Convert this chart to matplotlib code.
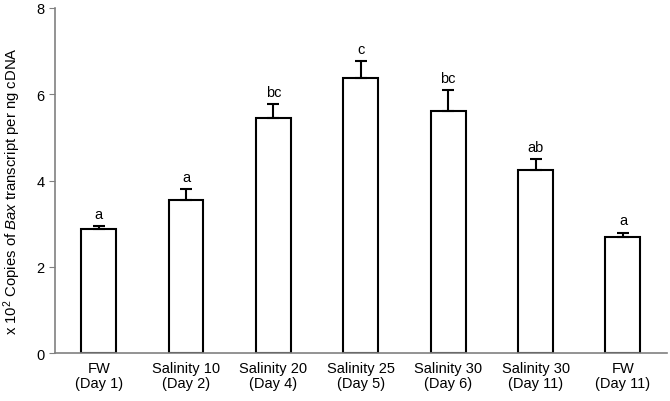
import numpy as np
import matplotlib
matplotlib.use('Agg')
import matplotlib.pyplot as plt

plt.rcParams['font.family'] = ['Liberation Sans', 'DejaVu Sans']
plt.rcParams['mathtext.fontset'] = 'custom'
plt.rcParams['mathtext.rm'] = 'Liberation Sans'
plt.rcParams['mathtext.it'] = 'Liberation Sans:italic'

# ---------- data ----------
categories = ['FW\n(Day 1)', 'Salinity 10\n(Day 2)', 'Salinity 20\n(Day 4)',
              'Salinity 25\n(Day 5)', 'Salinity 30\n(Day 6)', 'Salinity 30\n(Day 11)',
              'FW\n(Day 11)']
means = [2.88, 3.55, 5.44, 6.38, 5.61, 4.24, 2.69]
errors = [0.06, 0.25, 0.33, 0.38, 0.48, 0.25, 0.10]
letters = ['a', 'a', 'bc', 'c', 'bc', 'ab', 'a']

# ---------- plot ----------
fig = plt.figure(figsize=(6.7, 4.02), dpi=100)
ax = fig.add_axes([0.082, 0.119, 0.913, 0.859])

x = np.arange(len(categories))
ax.bar(x, means, width=0.4, color='white', edgecolor='black', linewidth=1.5, zorder=2)
ax.errorbar(x, means, yerr=[np.zeros(len(errors)), errors], fmt='none',
            ecolor='black', elinewidth=1.5, capsize=4, capthick=1.5, zorder=3)

for xi, m, e, lab in zip(x, means, errors, letters):
    ax.annotate(lab, (xi, m + e), xytext=(0, 4), textcoords='offset points',
                ha='center', va='bottom', fontsize=10.5)

ax.set_xlim(-0.5, len(categories) - 0.5)
ax.set_ylim(0, 8)
ax.set_yticks([0, 2, 4, 6, 8])
ax.set_xticks(x)
ax.set_xticklabels(categories, fontsize=10.5, linespacing=1.05)
ax.tick_params(axis='y', labelsize=10.5, color='#808080', length=4, direction='out')
ax.tick_params(axis='x', length=0, pad=6)
ax.set_ylabel(r'x 10$^2$ Copies of $\mathit{Bax}$ transcript per ng cDNA', fontsize=10.7)
ax.yaxis.set_label_coords(-0.052, 0.472)

for s in ['top', 'right']:
    ax.spines[s].set_visible(False)
for s in ['left', 'bottom']:
    ax.spines[s].set_color('#808080')
    ax.spines[s].set_linewidth(1.2)

fig.savefig('out.png', dpi=100)
